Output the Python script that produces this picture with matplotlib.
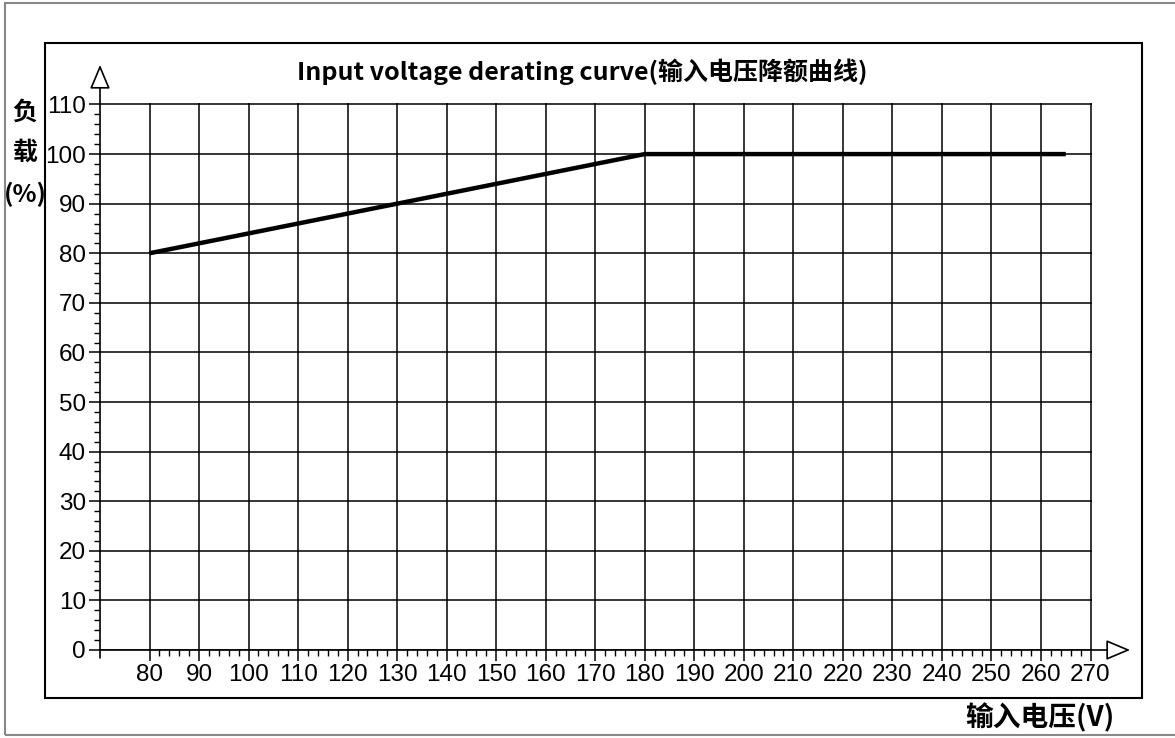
import matplotlib.pyplot as plt
from matplotlib.patches import Rectangle
from matplotlib.ticker import FixedLocator

# data
voltage = [80, 180, 265]
load = [80, 100, 100]
x_ticks = list(range(80, 271, 10))
y_ticks = list(range(0, 111, 10))
x_minor = [v for v in range(82, 270, 2) if v % 10]
y_minor = [v for v in range(2, 110, 2) if v % 10]

title = "Input voltage derating curve(输入电压降额曲线)"
ylabel = "负\n载\n(%)"
xlabel = "输入电压(V)"

W, H = 1175, 738
fig = plt.figure(figsize=(W / 100, H / 100), dpi=100)


def fx(px):
    return px / W


def fy(py):
    return 1 - py / H


# outer gray frame and inner black frame
fig.add_artist(Rectangle((fx(5), fy(735)), fx(1185) - fx(5), fy(3) - fy(735),
                         transform=fig.transFigure, fill=False, ec='#888888', lw=1.5))
fig.add_artist(Rectangle((fx(45), fy(698)), fx(1142) - fx(45), fy(43) - fy(698),
                         transform=fig.transFigure, fill=False, ec='black', lw=1.5))

ax = fig.add_axes([fx(100), fy(650), fx(1092) - fx(100), fy(103) - fy(650)])
ax.set_xlim(70, 270.3)
ax.set_ylim(0, 110.3)
for s in ax.spines.values():
    s.set_visible(False)

ax.set_xticks(x_ticks)
ax.set_yticks(y_ticks)
ax.xaxis.set_minor_locator(FixedLocator(x_minor))
ax.yaxis.set_minor_locator(FixedLocator(y_minor))
ax.grid(True, which='major', color='black', lw=1.1)
ax.tick_params(which='major', length=8, width=1.1, labelsize=17.5, pad=2, colors='black')
ax.tick_params(which='minor', length=4, width=1.0)
for lab in ax.get_xticklabels() + ax.get_yticklabels():
    lab.set_family('Liberation Sans')

ax.plot(voltage, load, color='black', lw=3.2, solid_capstyle='butt')

# axis lines with hollow arrow heads
arrow = dict(arrowstyle='-|>,head_length=1.0,head_width=0.42', mutation_scale=15,
             fc='white', ec='black', lw=1.2, shrinkA=0, shrinkB=0)
ax.annotate('', xy=(278, 0), xytext=(70, 0), arrowprops=arrow, annotation_clip=False)
ax.annotate('', xy=(70, 118), xytext=(70, -1.6), arrowprops=arrow, annotation_clip=False)

cjk = ['Noto Sans CJK SC', 'DejaVu Sans']
fig.text(fx(582), fy(72), title, ha='center', va='center', fontsize=18,
         fontweight='bold', family=cjk)
fig.text(fx(25), fy(154), ylabel, ha='center', va='center', fontsize=18,
         fontweight='bold', family=cjk, linespacing=1.85)
fig.text(fx(1040), fy(718), xlabel, ha='center', va='center', fontsize=20,
         fontweight='bold', family=cjk)

fig.savefig('out.png', dpi=100)
